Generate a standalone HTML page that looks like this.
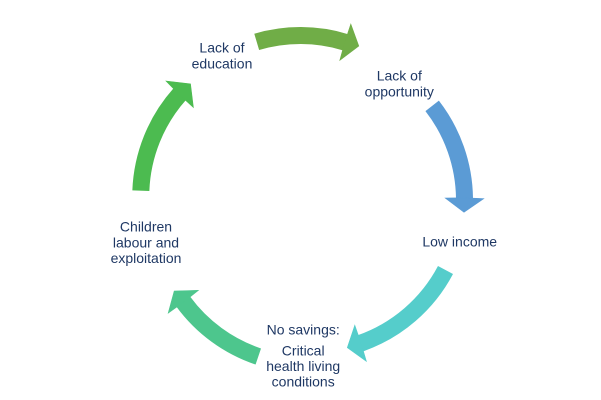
<!DOCTYPE html>
<html>
<head>
<meta charset="utf-8">
<style>
  html, body { margin: 0; padding: 0; background: #ffffff; }
  body { width: 601px; height: 400px; overflow: hidden; }
  svg { display: block; }
  text { font-family: "Liberation Sans", Arial, sans-serif; font-size: 14px; fill: #1F3864; }
</style>
</head>
<body>
<svg width="601" height="400" viewBox="0 0 601 400" xmlns="http://www.w3.org/2000/svg">
  <rect x="0" y="0" width="601" height="400" fill="#ffffff"/>

  <!-- Top arrow: Lack of education -> Lack of opportunity -->
  <path d="M 256.7 41.9 A 154 154 0 0 1 345.3 42.2" fill="none" stroke="#70AD47" stroke-width="17"/>
  <polygon points="350.8,24.0 358.8,46.0 339.8,60.4 344.8,42.2" fill="#70AD47" stroke="#70AD47" stroke-width="0.6"/>

  <!-- Right arrow: Lack of opportunity -> Low income -->
  <path d="M 432.15 105.85 A 154 154 0 0 1 464.5 198.3" fill="none" stroke="#5B9BD5" stroke-width="17"/>
  <polygon points="483.8,198.6 464.0,212.3 445.2,198.0 464.5,197.8" fill="#5B9BD5" stroke="#5B9BD5" stroke-width="0.6"/>

  <!-- Bottom-right arrow: Low income -> No savings -->
  <path d="M 445.5 270 A 154 154 0 0 1 360.5 343.3" fill="none" stroke="#55CDCB" stroke-width="17"/>
  <polygon points="366.4,361.4 347.3,347.6 354.8,325.2 361.0,343.0" fill="#55CDCB" stroke="#55CDCB" stroke-width="0.6"/>

  <!-- Bottom-left arrow: No savings -> Children labour -->
  <path d="M 258.3 356.5 A 154 154 0 0 1 183.3 301.7" fill="none" stroke="#4DC68D" stroke-width="17"/>
  <polygon points="168.2,313.1 174.2,291.0 198.4,290.3 183.6,302.1" fill="#4DC68D" stroke="#4DC68D" stroke-width="0.6"/>

  <!-- Left arrow: Children labour -> Lack of education -->
  <path d="M 140.85 190.7 A 154 154 0 0 1 179.7 94.2" fill="none" stroke="#4CBB50" stroke-width="17"/>
  <polygon points="166.0,81.0 190.5,83.9 193.4,107.5 179.4,94.6" fill="#4CBB50" stroke="#4CBB50" stroke-width="0.6"/>

  <!-- Labels -->
  <text x="222" y="52.5" text-anchor="middle">Lack of</text>
  <text x="222" y="68.5" text-anchor="middle">education</text>

  <text x="399.3" y="80.7" text-anchor="middle">Lack of</text>
  <text x="399.3" y="96.3" text-anchor="middle">opportunity</text>

  <text x="459.7" y="246.7" text-anchor="middle">Low income</text>

  <text x="146" y="231.7" text-anchor="middle">Children</text>
  <text x="146" y="247.3" text-anchor="middle">labour and</text>
  <text x="146" y="262.8" text-anchor="middle">exploitation</text>

  <text x="303.2" y="334.3" text-anchor="middle">No savings:</text>
  <text x="303.2" y="355.7" text-anchor="middle">Critical</text>
  <text x="303.2" y="371.1" text-anchor="middle">health living</text>
  <text x="303.2" y="386.4" text-anchor="middle">conditions</text>
</svg>
</body>
</html>
